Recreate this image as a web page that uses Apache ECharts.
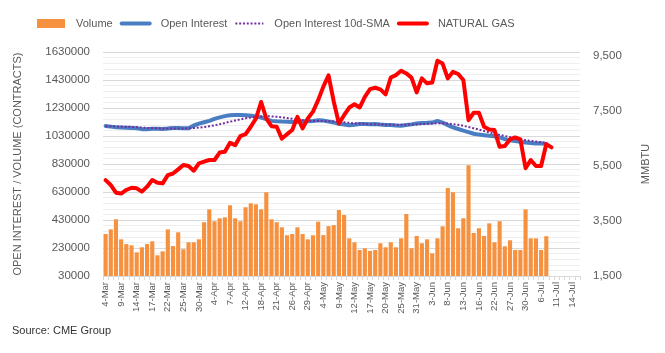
<!DOCTYPE html>
<html>
<head>
<meta charset="utf-8">
<script src="https://cdn.jsdelivr.net/npm/echarts@6/dist/echarts.min.js"></script>
<style>
  html, body { margin: 0; padding: 0; background: #fff; }
  #chart { width: 665px; height: 353px; }
</style>
</head>
<body>
<div id="chart"></div>
<script>
// trading days, 4-Mar .. 15-Jul
const DAYS = [
  '4-Mar', '7-Mar', '8-Mar', '9-Mar', '10-Mar', '11-Mar', '14-Mar', '15-Mar', '16-Mar', '17-Mar',
  '18-Mar', '21-Mar', '22-Mar', '23-Mar', '24-Mar', '25-Mar', '28-Mar', '29-Mar', '30-Mar', '31-Mar',
  '1-Apr', '4-Apr', '5-Apr', '6-Apr', '7-Apr', '8-Apr', '11-Apr', '12-Apr', '13-Apr', '14-Apr',
  '18-Apr', '19-Apr', '20-Apr', '21-Apr', '22-Apr', '25-Apr', '26-Apr', '27-Apr', '28-Apr', '29-Apr',
  '2-May', '3-May', '4-May', '5-May', '6-May', '9-May', '10-May', '11-May', '12-May', '13-May',
  '16-May', '17-May', '18-May', '19-May', '20-May', '23-May', '24-May', '25-May', '26-May', '27-May',
  '31-May', '1-Jun', '2-Jun', '3-Jun', '6-Jun', '7-Jun', '8-Jun', '9-Jun', '10-Jun', '13-Jun',
  '14-Jun', '15-Jun', '16-Jun', '17-Jun', '21-Jun', '22-Jun', '23-Jun', '24-Jun', '27-Jun', '28-Jun',
  '29-Jun', '30-Jun', '1-Jul', '5-Jul', '6-Jul', '7-Jul', '8-Jul', '11-Jul', '12-Jul', '13-Jul',
  '14-Jul', '15-Jul'
];

const VOLUME = [
  330000, 363000, 435000, 292000, 258000, 249000, 199000, 235000, 258000, 278000,
  178000, 206000, 363000, 244000, 342000, 221000, 271000, 271000, 292000, 414000,
  506000, 421000, 442000, 449000, 535000, 442000, 421000, 521000, 549000, 542000,
  506000, 628000, 435000, 414000, 378000, 321000, 330000, 378000, 330000, 292000,
  321000, 418000, 322000, 386000, 393000, 501000, 466000, 299000, 271000, 216000,
  228000, 209000, 216000, 264000, 235000, 271000, 235000, 299000, 473000, 228000,
  316000, 264000, 292000, 192000, 299000, 385000, 659000, 628000, 371000, 442000,
  821000, 337000, 371000, 316000, 406000, 271000, 421000, 242000, 285000, 216000,
  216000, 506000, 299000, 299000, 216000, 314000
];

const OPEN_INTEREST = [
  1101000, 1097000, 1093000, 1090000, 1089000, 1088000, 1085000, 1079000, 1078000, 1081000,
  1082000, 1080000, 1083000, 1087000, 1087000, 1086000, 1086000, 1105000, 1118000, 1128000,
  1138000, 1152000, 1163000, 1172000, 1178000, 1180000, 1180000, 1178000, 1175000, 1170000,
  1162000, 1150000, 1138000, 1135000, 1133000, 1132000, 1130000, 1131000, 1135000, 1136000,
  1137000, 1142000, 1140000, 1133000, 1127000, 1117000, 1112000, 1106000, 1110000, 1115000,
  1116000, 1114000, 1116000, 1112000, 1109000, 1108000, 1105000, 1104000, 1108000, 1113000,
  1120000, 1123000, 1124000, 1126000, 1137000, 1126000, 1108000, 1092000, 1080000, 1068000,
  1058000, 1046000, 1040000, 1036000, 1032000, 1028000, 1020000, 1008000, 1000000, 994000,
  988000, 984000, 980000, 976000, 978000, 971000
];

const OI_SMA10 = [
  1100000, 1100000, 1098000, 1097000, 1096000, 1095000, 1093000, 1090000, 1088000, 1087000,
  1085000, 1084000, 1083000, 1083000, 1083000, 1084000, 1085000, 1087000, 1090000, 1094000,
  1100000, 1106000, 1114000, 1123000, 1132000, 1141000, 1149000, 1156000, 1162000, 1167000,
  1170000, 1171000, 1170000, 1167000, 1163000, 1158000, 1153000, 1148000, 1143000, 1139000,
  1137000, 1137000, 1137000, 1136000, 1134000, 1131000, 1128000, 1124000, 1121000, 1118000,
  1116000, 1114000, 1113000, 1112000, 1111000, 1110000, 1110000, 1110000, 1111000, 1112000,
  1113000, 1115000, 1117000, 1119000, 1121000, 1121000, 1119000, 1115000, 1110000, 1103000,
  1094000, 1085000, 1076000, 1066000, 1056000, 1047000, 1038000, 1030000, 1022000, 1014000,
  1006000, 1000000, 995000, 990000, 985000, 981000
];

const NATURAL_GAS = [
  4990, 4810, 4530, 4500, 4630, 4710, 4690, 4570, 4750, 4990,
  4890, 4870, 5170, 5230, 5380, 5540, 5500, 5330, 5600, 5660,
  5720, 5720, 5990, 6020, 6350, 6260, 6590, 6660, 6930, 7230,
  7830, 7230, 6950, 6930, 6500, 6660, 6810, 7290, 6870, 7230,
  7480, 7900, 8390, 8800, 7850, 7050, 7350, 7630, 7750, 7630,
  8020, 8300, 8350, 8290, 8110, 8720, 8810, 8970, 8870, 8720,
  8180, 8690, 8510, 8540, 9330, 9230, 8690, 8930, 8850, 8630,
  7170, 7440, 7440, 6930, 6830, 6810, 6200, 6230, 6470, 6540,
  6470, 5420, 5720, 5500, 5500, 6300, 6180
];

const TXT = '#595959';
const FONT = 'Liberation Sans, Arial, sans-serif';

let chart = echarts.init(document.getElementById('chart'), null, { renderer: 'canvas' });
let option = {
  animation: false,
  backgroundColor: '#fff',
  textStyle: { fontFamily: FONT },
  grid: { left: 103, right: 85, top: 52, bottom: 77, containLabel: false },
  legend: {
    left: 37,
    top: 18,
    padding: 0,
    itemWidth: 28,
    itemHeight: 9,
    itemGap: 7,
    textStyle: { color: TXT, fontSize: 11, fontFamily: FONT, padding: [0, 0, 0, 6] },
    data: [
      { name: 'Volume', icon: 'rect' },
      { name: 'Open Interest', itemStyle: { opacity: 0 }, lineStyle: { width: 4 } },
      { name: 'Open Interest 10d-SMA', itemStyle: { opacity: 0 } },
      { name: 'NATURAL GAS', itemStyle: { opacity: 0 }, lineStyle: { width: 4 } }
    ]
  },
  xAxis: {
    type: 'category',
    data: DAYS,
    boundaryGap: true,
    axisLine: { lineStyle: { color: '#d9d9d9', width: 1 } },
    axisTick: { show: true, interval: 0, length: 4, lineStyle: { color: '#d9d9d9' } },
    axisLabel: { interval: 2, rotate: 90, color: TXT, fontSize: 9.5, margin: 6, fontFamily: FONT },
    splitLine: { show: false }
  },
  yAxis: [
    {
      type: 'value',
      min: 30000,
      max: 1630000,
      interval: 200000,
      name: 'OPEN INTEREST / VOLUME (CONTRACTS)',
      nameLocation: 'middle',
      nameRotate: 90,
      nameGap: 80,
      nameTextStyle: { color: TXT, fontSize: 11, fontFamily: FONT },
      axisLine: { show: false },
      axisTick: { show: false },
      axisLabel: { color: TXT, fontSize: 11.5, margin: 13, fontFamily: FONT, formatter: v => String(v) },
      splitLine: { show: true, lineStyle: { color: '#d9d9d9', width: 1 } },
      minorTick: { show: false, splitNumber: 5 },
      minorSplitLine: { show: true, lineStyle: { color: '#efefef', width: 1 } }
    },
    {
      type: 'value',
      min: 1500,
      max: 9650,
      interval: 2000,
      name: 'MMBTU',
      nameLocation: 'middle',
      nameRotate: 90,
      nameGap: 60,
      nameTextStyle: { color: TXT, fontSize: 11, fontFamily: FONT },
      axisLine: { show: false },
      axisTick: { show: false },
      axisLabel: {
        color: TXT, fontSize: 11.5, margin: 13, fontFamily: FONT, showMaxLabel: false,
        formatter: v => v.toLocaleString('en-US')
      },
      splitLine: { show: false }
    }
  ],
  series: [
    {
      name: 'Volume',
      type: 'bar',
      data: VOLUME,
      barCategoryGap: '20%',
      itemStyle: { color: '#F5913F' }
    },
    {
      name: 'Open Interest',
      type: 'line',
      data: OPEN_INTEREST,
      symbol: 'none',
      lineStyle: { color: '#4A7EC2', width: 4, join: 'round', cap: 'round' },
      itemStyle: { color: '#4A7EC2' }
    },
    {
      name: 'Open Interest 10d-SMA',
      type: 'line',
      data: OI_SMA10,
      symbol: 'none',
      lineStyle: { color: '#7030A0', width: 2, type: [2, 1.8] },
      itemStyle: { color: '#7030A0' }
    },
    {
      name: 'NATURAL GAS',
      type: 'line',
      yAxisIndex: 1,
      data: NATURAL_GAS,
      symbol: 'none',
      lineStyle: { color: '#FF0000', width: 4, join: 'round', cap: 'round' },
      itemStyle: { color: '#FF0000' }
    }
  ],
  graphic: [
    {
      type: 'text',
      left: 12,
      top: 325,
      style: { text: 'Source: CME Group', fill: '#333', font: '11px ' + FONT }
    }
  ]
};
chart.setOption(option);
window.addEventListener('resize', () => { chart.resize(); });
</script>
</body>
</html>
